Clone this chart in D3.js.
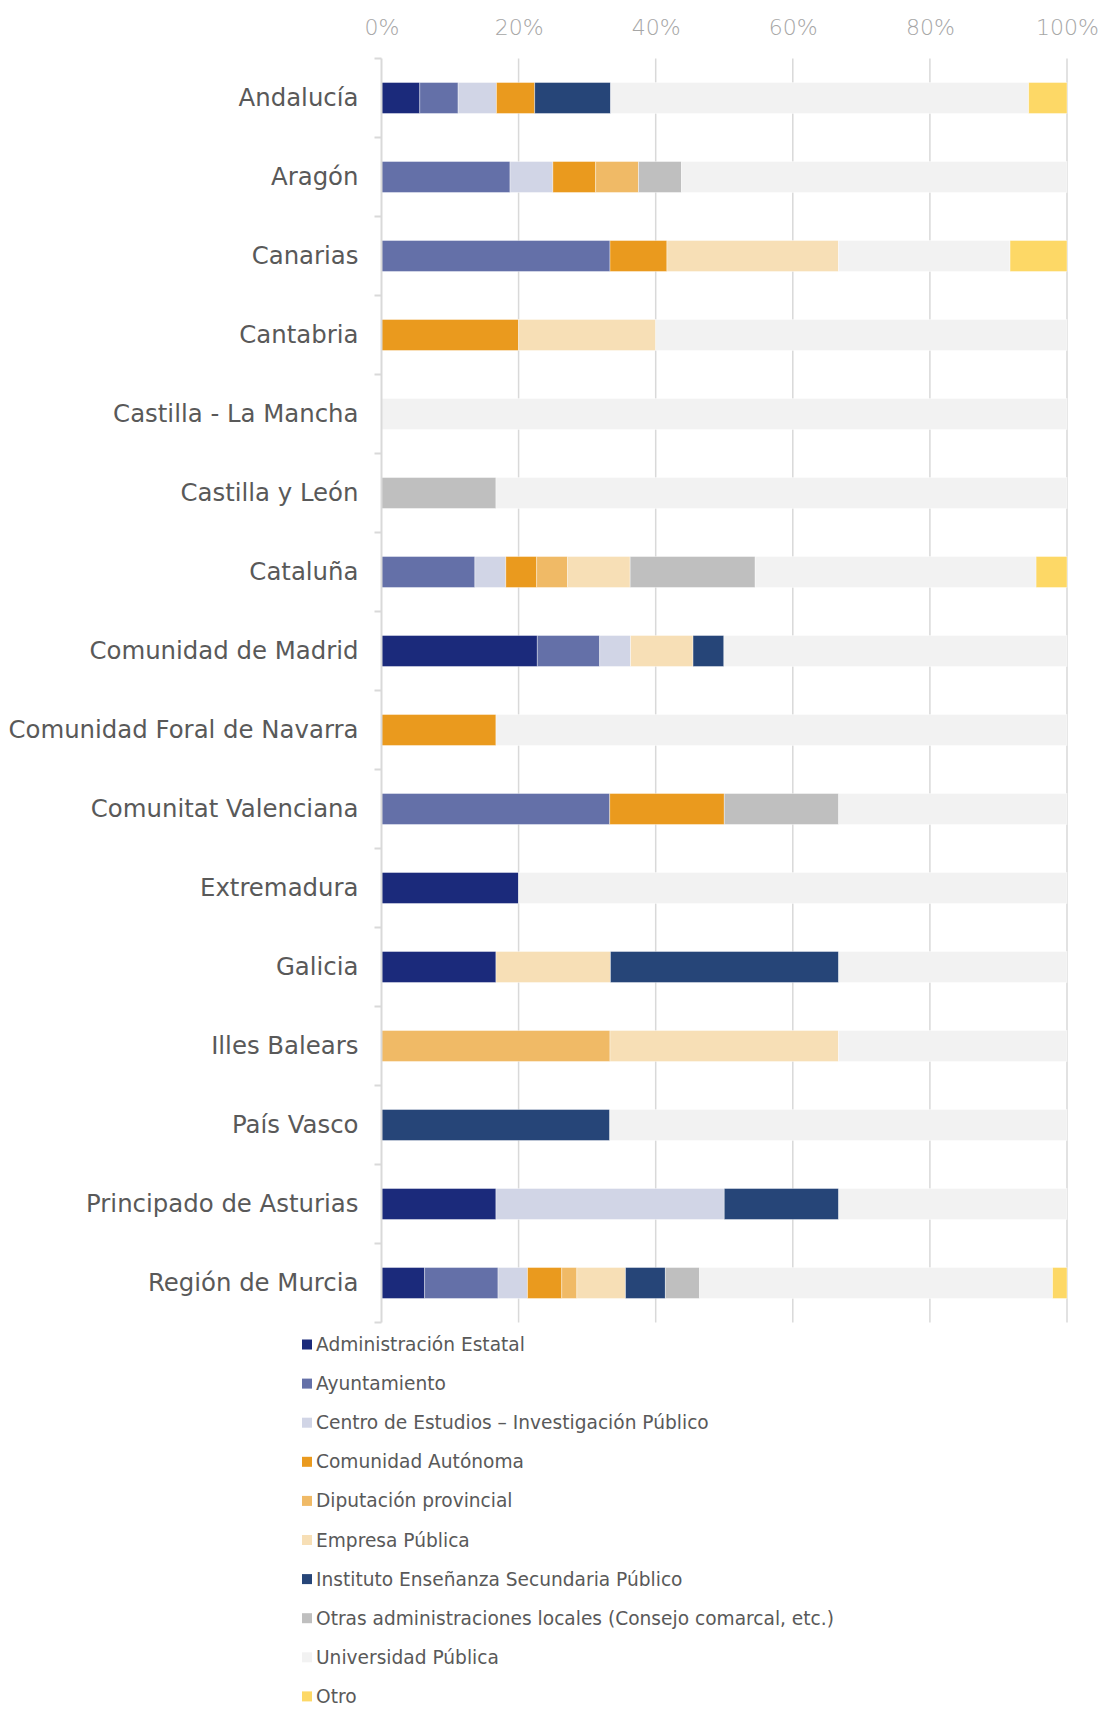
<!DOCTYPE html>
<html>
<head>
<meta charset="utf-8">
<script src="https://cdn.jsdelivr.net/npm/d3@7"></script>
<style>
  body { margin: 0; background: #fff; }
  svg { display: block; font-family: "DejaVu Sans", sans-serif; }
</style>
</head>
<body>
<div id="chart"></div>
<script>
// Regions (rows, top to bottom)
const regions = [
  "Andalucía", "Aragón", "Canarias", "Cantabria", "Castilla - La Mancha",
  "Castilla y León", "Cataluña", "Comunidad de Madrid", "Comunidad Foral de Navarra",
  "Comunitat Valenciana", "Extremadura", "Galicia", "Illes Balears", "País Vasco",
  "Principado de Asturias", "Región de Murcia"
];

// Entity types (stack order, left to right)
const entities = [
  "Administración Estatal", "Ayuntamiento", "Centro de Estudios – Investigación Público",
  "Comunidad Autónoma", "Diputación provincial", "Empresa Pública",
  "Instituto Enseñanza Secundaria Público", "Otras administraciones locales (Consejo comarcal, etc.)",
  "Universidad Pública", "Otro"
];

const colors = ["#1b2a7b", "#6470a8", "#d1d5e6", "#ea9a1e", "#f0ba66",
                "#f7dfb6", "#264578", "#bfbfbf", "#f2f2f2", "#fdd866"];

// Share (%) per region, one value per entity type, same order as entities
const admEstatal   = [5.6, 0,    0,    0,  0,    0,    0,    22.7, 0,    0,    20, 16.7, 0,    0,    16.7, 6.3];
const ayuntamiento = [5.6, 18.75, 33.3, 0,  0,    0,    13.6, 9.1,  0,    33.3, 0,  0,    0,    0,    0,    10.7];
const centroEst    = [5.6, 6.25, 0,    0,  0,    0,    4.5,  4.5,  0,    0,    0,  0,    0,    0,    33.3, 4.3];
const comAutonoma  = [5.6, 6.25, 8.3,  20, 0,    0,    4.5,  0,    16.7, 16.7, 0,  0,    0,    0,    0,    5.0];
const diputacion   = [0,   6.25, 0,    0,  0,    0,    4.5,  0,    0,    0,    0,  0,    33.3, 0,    0,    2.2];
const empresaPub   = [0,   0,    25,   20, 0,    0,    9.1,  9.1,  0,    0,    0,  16.7, 33.3, 0,    0,    7.1];
const instituto    = [11.1, 0,   0,    0,  0,    0,    0,    4.5,  0,    0,    0,  33.3, 0,    33.3, 16.7, 5.8];
const otrasAdm     = [0,   6.25, 0,    0,  0,    16.7, 18.2, 0,    0,    16.7, 0,  0,    0,    0,    0,    5.0];
const universidad  = [61.1, 56.25, 25, 60, 100,  83.3, 40.9, 50,   83.3, 33.3, 80, 33.3, 33.3, 66.7, 33.3, 51.5];
const otro         = [5.6, 0,    8.3,  0,  0,    0,    4.5,  0,    0,    0,    0,  0,    0,    0,    0,    2.1];

const xTicks = [0, 0.2, 0.4, 0.6, 0.8, 1];

const series = [admEstatal, ayuntamiento, centroEst, comAutonoma, diputacion,
                empresaPub, instituto, otrasAdm, universidad, otro];

const rows = regions.map((r, i) => {
  const o = { region: r };
  entities.forEach((e, j) => { o[e] = series[j][i]; });
  return o;
});

const width = 1101;
const height = 1709;
const marginLeft = 381.5;
const marginRight = 34;
const plotTop = 58.5;
const plotBottom = 1322.5;

const svg = d3.select("#chart").append("svg")
    .attr("width", width)
    .attr("height", height)
    .attr("viewBox", [0, 0, width, height]);

const x = d3.scaleLinear()
    .domain([0, 1])
    .range([marginLeft, width - marginRight]);

const y = d3.scaleBand()
    .domain(regions)
    .range([plotTop, plotBottom])
    .paddingInner(0.608)
    .paddingOuter(0.304);

const stacked = d3.stack()
    .keys(entities)
    .offset(d3.stackOffsetExpand)(rows);

const color = d3.scaleOrdinal().domain(entities).range(colors);

// vertical grid lines
svg.append("g")
  .selectAll("line")
  .data(xTicks.slice(1))
  .join("line")
    .attr("x1", d => x(d))
    .attr("x2", d => x(d))
    .attr("y1", plotTop)
    .attr("y2", plotBottom)
    .attr("stroke", "#d9d9d9")
    .attr("stroke-width", 1.5);

// top axis labels
svg.append("g")
    .attr("transform", "translate(0,35)")
    .call(d3.axisTop(x).tickValues(xTicks).tickFormat(d3.format(".0%")).tickSize(0).tickPadding(0))
    .call(g => g.select(".domain").remove())
    .call(g => g.selectAll("text")
        .attr("dy", 0)
        .attr("font-family", "DejaVu Sans")
        .attr("font-weight", 200)
        .attr("font-size", 22)
        .attr("fill", "#a6a6a6"));

// stacked bars
svg.append("g")
  .selectAll("g")
  .data(stacked)
  .join("g")
    .attr("fill", d => color(d.key))
  .selectAll("rect")
  .data(d => d.filter(s => s[1] - s[0] > 0))
  .join("rect")
    .attr("x", d => x(d[0]))
    .attr("width", d => x(d[1]) - x(d[0]))
    .attr("y", d => y(d.data.region))
    .attr("height", y.bandwidth())
    .attr("stroke", "#ffffff")
    .attr("stroke-opacity", 0.5)
    .attr("stroke-width", 0.75);

// left axis: line, boundary ticks, labels
const bounds = regions.map(r => y(r) + y.bandwidth() / 2 - y.step() / 2)
    .concat([y(regions[regions.length - 1]) + y.bandwidth() / 2 + y.step() / 2]);

const yAxis = svg.append("g");
yAxis.append("line")
    .attr("x1", marginLeft).attr("x2", marginLeft)
    .attr("y1", plotTop).attr("y2", plotBottom)
    .attr("stroke", "#d9d9d9")
    .attr("stroke-width", 2);
yAxis.selectAll(".btick")
  .data(bounds)
  .join("line")
    .attr("class", "btick")
    .attr("x1", marginLeft - 7).attr("x2", marginLeft)
    .attr("y1", d => d).attr("y2", d => d)
    .attr("stroke", "#d9d9d9")
    .attr("stroke-width", 2);

svg.append("g")
    .attr("transform", `translate(${marginLeft},0)`)
    .call(d3.axisLeft(y).tickSize(0).tickPadding(23))
    .call(g => g.select(".domain").remove())
    .call(g => g.selectAll("text")
        .attr("font-family", "DejaVu Sans")
        .attr("font-size", 24.4)
        .attr("fill", "#595959"));

// legend
const legend = svg.append("g")
    .attr("transform", "translate(302,1344.5)")
  .selectAll("g")
  .data(entities)
  .join("g")
    .attr("transform", (d, i) => `translate(0,${i * 39.1})`);

legend.append("rect")
    .attr("x", 0)
    .attr("y", -5)
    .attr("width", 10)
    .attr("height", 10)
    .attr("fill", d => color(d));

legend.append("text")
    .attr("x", 14)
    .attr("y", 0)
    .attr("dy", "0.35em")
    .attr("font-size", 18.6)
    .attr("fill", "#595959")
    .text(d => d);
</script>
</body>
</html>
